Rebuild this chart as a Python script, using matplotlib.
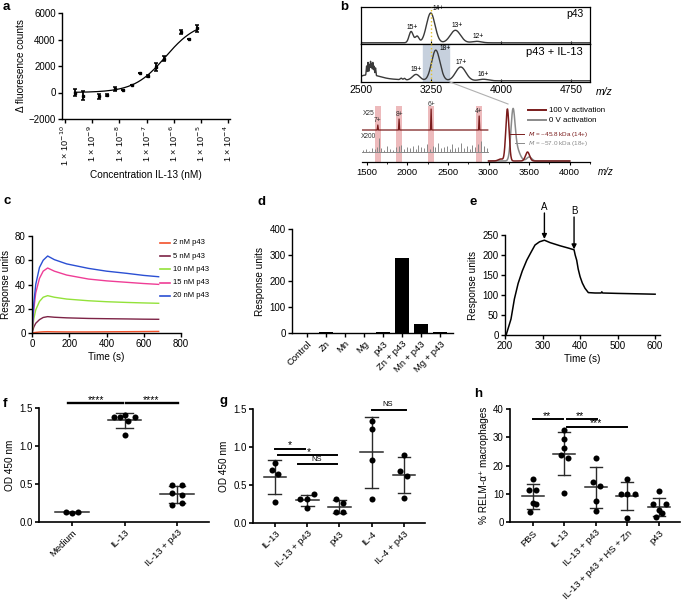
import numpy as np
import matplotlib
matplotlib.use("Agg")
import matplotlib.pyplot as plt
from matplotlib.lines import Line2D
from matplotlib.ticker import MultipleLocator

plt.rcParams['font.family'] = ['Liberation Sans', 'DejaVu Sans']
plt.rcParams['mathtext.fontset'] = 'dejavusans'

# ---------------- data ----------------
# a: thermophoresis titration
a_log_conc = [-9.65, -9.35, -8.75, -8.45, -8.15, -7.85, -7.55, -7.25, -6.95, -6.64, -6.35, -5.74, -5.44, -5.14]
a_signal = [0, -250, -300, -180, 270, 200, 575, 1450, 1250, 1950, 2550, 4550, 4050, 4850]
a_error = [250, 350, 200, 80, 150, 0, 0, 0, 100, 300, 200, 150, 0, 250]
a_fit_bottom, a_fit_top, a_fit_logec50, a_fit_hill = 0, 5400, -6.3, 0.75
a_tick_exp = [-10, -9, -8, -7, -6, -5, -4]

# b: native MS, peak tables (m/z, relative height, width)
b_top_mz = [3036, 3100, 3246, 3510, 3737]
b_top_h = [0.38, 0.22, 1.0, 0.42, 0.05]
b_top_w = [22, 20, 45, 55, 50]
b_top_lab = ['15+', '', '14+', '13+', '12+']
b_bot_mz = [2520, 2560, 2575, 2590, 2602, 2614, 2627, 2640, 2655, 2620, 2800, 2930, 2965, 3090, 3300, 3567, 3810]
b_bot_h = [0.08, 0.30, 0.42, 0.35, 0.45, 0.38, 0.42, 0.30, 0.25, 0.15, 0.05, 0.05, 0.05, 0.20, 1.0, 0.45, 0.05]
b_bot_w = [40, 4, 4, 4, 4, 4, 4, 4, 4, 90, 150, 10, 10, 40, 45, 55, 50]
b_bot_lab_mz = [3090, 3300, 3567, 3810]
b_bot_lab = ['19+', '18+', '17+', '16+']
b_x25_mz = [1635, 1897, 2292, 2884]
b_x25_h = [5, 11, 21, 14]
b_x25_lab = ['7+', '8+', '6+', '4+']
b_noise_mz = [1455, 1490, 1525, 1560, 1595, 1630, 1645, 1680, 1715, 1750, 1785, 1820, 1855, 1890, 1925,
              1960, 1995, 2030, 2065, 2100, 2135, 2170, 2205, 2240, 2275, 2310, 2345, 2380, 2415, 2450,
              2485, 2520, 2555, 2590, 2625, 2660, 2695, 2730, 2765, 2800, 2835, 2870, 2905, 2940, 2975]
b_noise_h = [2, 3, 1, 4, 3, 5, 14, 4, 2, 6, 3, 2, 5, 6, 7, 3, 5, 4, 6, 3, 7, 5, 4, 8, 3, 6, 5, 9, 4, 5,
             6, 3, 8, 4, 5, 9, 4, 6, 3, 7, 5, 8, 11, 6, 4]
b_0v_mz, b_0v_h, b_0v_w = [3300, 3345, 3500], [46, 12, 4], [25, 40, 30]
b_100v_mz, b_100v_h, b_100v_w = [3232, 3150, 3480], [52, 2, 9], [20, 30, 25]

# c: SPR sensorgrams
c_time = [0, 10, 20, 40, 60, 84, 120, 186, 303, 400, 509, 600, 680]
c_series = {
    '2 nM p43': [0, 0.3, 0.5, 0.8, 1.0, 1.1, 1.0, 0.9, 0.9, 1.0, 1.1, 1.2, 1.3],
    '5 nM p43': [0, 5, 8, 11, 12.8, 13.5, 13, 12.5, 12, 11.8, 11.6, 11.4, 11.3],
    '10 nM p43': [0, 12, 19, 26, 29.5, 30.8, 29.5, 28, 26.6, 25.8, 25.2, 24.8, 24.5],
    '15 nM p43': [0, 20, 33, 45, 51, 53.6, 51, 47.8, 44.5, 43, 41.8, 40.8, 40.1],
    '20 nM p43': [0, 25, 40, 54, 60, 63.5, 60.5, 57, 53.3, 51, 49.2, 47.5, 46.4],
}
c_colors = ['#f2502a', '#7d2346', '#93e23a', '#ef3d96', '#2b4fd3']

# d: bar chart
d_cats = ['Control', 'Zn', 'Mn', 'Mg', 'p43', 'Zn + p43', 'Mn + p43', 'Mg + p43']
d_vals = [0, 2, 0, 0, 2, 290, 33, 5]

# e: SPR trace
e_time = [203, 216, 225, 235, 246, 258, 270, 280, 292, 305, 320, 347, 370, 384, 387, 391, 395, 400, 406,
          413, 422, 440, 456, 458, 460, 500, 550, 600]
e_resp = [0, 40, 90, 129, 160, 187, 208, 225, 233, 237, 231, 223, 217, 213, 200, 187, 165, 146, 130,
          117, 106, 105, 105, 108, 105, 104, 103, 102]

# f
f_cats = ['Medium', 'IL-13', 'IL-13 + p43']
f_vals = [[0.13, 0.12, 0.13], [1.38, 1.38, 1.41, 1.33, 1.38, 1.14], [0.49, 0.49, 0.38, 0.36, 0.245, 0.22]]
# g
g_cats = ['IL-13', 'IL-13 + p43', 'p43', 'IL-4', 'IL-4 + p43']
g_vals = [[0.79, 0.70, 0.64, 0.28], [0.31, 0.31, 0.38, 0.20], [0.31, 0.26, 0.14, 0.14],
          [1.34, 1.24, 0.83, 0.31], [0.89, 0.69, 0.62, 0.33]]
# h
h_cats = ['PBS', 'IL-13', 'IL-13 + p43', 'IL-13 + p43 + HS + Zn', 'p43']
h_vals = [[15.3, 11.5, 11.5, 6.7, 6.2, 3.5], [32.4, 29.4, 26.3, 23.6, 22.8, 10.4],
          [22.8, 14.1, 12.9, 7.6, 3.9], [15.1, 9.8, 9.8, 9.8, 1.5], [10.8, 6.2, 6.2, 4.3, 3.2, 1.8]]

# horizontal jitter of dots (layout only)
f_jit = [[-0.12, 0, 0.12], [-0.2, -0.09, 0, 0.07, 0.2, 0], [-0.1, 0.1, -0.1, 0.1, 0.1, -0.1]]
g_jit = [[0, -0.1, 0.1, 0], [-0.23, 0, 0.22, 0], [-0.1, 0.12, -0.1, 0.12], [0, 0, 0, 0], [0, -0.12, 0.1, 0]]
h_jit = [[0, -0.14, 0.1, 0, 0.1, -0.1], [0, 0, 0, -0.1, 0.1, 0], [0, -0.1, 0.12, 0, 0],
         [0, -0.2, 0, 0.23, 0], [0, -0.2, 0.23, 0, 0.1, -0.1]]

# ---------------- layout ----------------
W, H = 681, 600
fig = plt.figure(figsize=(W / 100, H / 100), dpi=100)
fig.patch.set_facecolor('white')


def axpx(l, t, r, b):
    return fig.add_axes([l / W, 1 - b / H, (r - l) / W, (b - t) / H])


def fp(x, y):
    return x / W, 1 - y / H


TK = 7.0   # tick label size
LS = 7.2   # axis label size


def style(ax, lw=1.0, ls=TK):
    for s in ['top', 'right']:
        ax.spines[s].set_visible(False)
    for s in ['left', 'bottom']:
        ax.spines[s].set_linewidth(lw)
    ax.tick_params(width=lw, length=3, labelsize=ls, pad=1.5)


for lab, x, y in [('a', 3, 10), ('b', 340, 10), ('c', 3, 204), ('d', 257, 205), ('e', 470, 205),
                  ('f', 3, 407), ('g', 220, 404), ('h', 474, 397)]:
    fig.text(*fp(x, y), lab, fontsize=9.5, fontweight='bold', va='baseline', ha='left')

# ---- a ----
axa = axpx(62, 13, 230, 119)
style(axa)
axa.set_xscale('log')
axa.errorbar(10.0 ** np.array(a_log_conc), a_signal, yerr=a_error, fmt='s', ms=2.0, color='k',
             ecolor='k', elinewidth=1.3, capsize=1.7, capthick=1.1)
xx = np.linspace(min(a_log_conc), max(a_log_conc), 200)
yy = a_fit_bottom + (a_fit_top - a_fit_bottom) / (1 + 10 ** (a_fit_hill * (a_fit_logec50 - xx)))
axa.plot(10 ** xx, yy, 'k', lw=0.9)
axa.set_xlim(10 ** -10.11, 10 ** -3.93)
axa.set_ylim(-2000, 6000)
axa.set_yticks([-2000, 0, 2000, 4000, 6000])
axa.set_yticklabels(['\u22122000', '0', '2000', '4000', '6000'])
axa.set_xticks(10.0 ** np.array(a_tick_exp))
axa.set_xticklabels([r'1 × 10$^{%d}$' % e for e in a_tick_exp], rotation=90, fontsize=6.6)
axa.tick_params(axis='x', which='minor', length=1.5, width=0.6)
axa.set_ylabel('\u0394 fluoresence counts', fontsize=LS, labelpad=2)
axa.set_xlabel('Concentration IL-13 (nM)', fontsize=LS, labelpad=3)

# ---- b (top spectra) ----
def spectrum(x, mz, h, w):
    y = np.zeros_like(x)
    for m, hh, ww in zip(mz, h, w):
        y += hh * np.exp(-0.5 * ((x - m) / ww) ** 2)
    return y

bx = np.linspace(2500, 4950, 3000)
axb1 = axpx(361, 7, 590, 44)
axb2 = axpx(361, 44, 590, 82)
for ax in (axb1, axb2):
    ax.set_xlim(2500, 4950)
    ax.set_ylim(-0.04, 1.2)
    ax.set_yticks([])
    for s in ax.spines.values():
        s.set_linewidth(0.9)
    ax.tick_params(axis='x', direction='in', length=2.5, width=0.8, labelsize=7.5, pad=2)
    ax.set_xticks([2500, 3250, 4000, 4750])
    ax.axvline(3250, color='#e2c12a', ls=':', lw=1.0, zorder=3)
axb1.set_xticklabels([])
axb2.axvspan(3165, 3440, color='#c6d0dd', zorder=0)
axb1.plot(bx, spectrum(bx, b_top_mz, b_top_h, b_top_w), color='#3a3a3a', lw=1.0)
axb2.plot(bx, spectrum(bx, b_bot_mz, b_bot_h, b_bot_w), color='#3a3a3a', lw=1.0)
for m, h, t in zip(b_top_mz, b_top_h, b_top_lab):
    if t:
        axb1.text(m + 15, h + 0.03, t, fontsize=4.8, ha='left' if m == 3246 else 'center', va='bottom')
for m, t in zip(b_bot_lab_mz, b_bot_lab):
    yv = spectrum(np.array([float(m)]), b_bot_mz, b_bot_h, b_bot_w)[0]
    axb2.text(m + (40 if t == '18+' else 0), min(yv, 0.9) + 0.04, t, fontsize=4.8,
              ha='left' if t == '18+' else 'center', va='bottom')
axb1.text(0.97, 0.82, 'p43', transform=axb1.transAxes, ha='right', va='center', fontsize=7.5)
axb2.text(0.97, 0.78, 'p43 + IL-13', transform=axb2.transAxes, ha='right', va='center', fontsize=8)
fig.text(*fp(596, 92), 'm/z', fontsize=7.5, style='italic', va='center')

# ---- b (lower spectra) ----
axb3 = axpx(362, 100, 590, 162)
axb3.set_xlim(1440, 4250)
axb3.set_ylim(0, 62)
for s in ['top', 'right', 'left']:
    axb3.spines[s].set_visible(False)
axb3.spines['bottom'].set_linewidth(0.9)
axb3.set_yticks([])
axb3.set_xticks([1500, 2000, 2500, 3000, 3500, 4000])
axb3.xaxis.set_minor_locator(MultipleLocator(250))
axb3.tick_params(axis='x', length=2.5, width=0.8, labelsize=6.8, pad=1.5)
axb3.tick_params(axis='x', which='minor', length=1.5, width=0.6)
for m in b_x25_mz:
    axb3.axvspan(m - 40, m + 40, ymax=56 / 62, color='#e9a9ab', alpha=0.8, lw=0, zorder=0)
# X200 noise trace
base200 = 10
axb3.plot([1440, 2990], [base200, base200], color='#888', lw=0.7)
axb3.vlines(b_noise_mz, base200, base200 + np.array(b_noise_h), color='#888', lw=0.7)
# X25 trace
base25 = 32
px, py = [1440], [base25]
for m, h in zip(b_x25_mz, b_x25_h):
    px += [m - 8, m, m + 8]
    py += [base25, base25 + h, base25]
px.append(2990)
py.append(base25)
axb3.plot(px, py, color='#7a1c1c', lw=0.9)
for m, h, t in zip(b_x25_mz, b_x25_h, b_x25_lab):
    axb3.text(m, base25 + h + 1, t, fontsize=4.8, ha='center', va='bottom', color='#333')
axb3.text(1450, 49, 'X25', fontsize=4.8, ha='left', va='center', color='#333')
axb3.text(1430, 26, 'X200', fontsize=4.8, ha='left', va='center', color='#333')
mx = np.linspace(3000, 4000, 1500)
axb3.plot(mx, 1 + spectrum(mx, b_0v_mz, b_0v_h, b_0v_w), color='#8a8a8a', lw=1.1)
axb3.plot(mx, 1 + spectrum(mx, b_100v_mz, b_100v_h, b_100v_w), color='#7a1c1c', lw=1.1)
axb3.plot([3262, 3440], [28, 28], color='#7a1c1c', lw=0.7)
axb3.plot([3330, 3440], [19, 19], color='#8a8a8a', lw=0.7)
fig.text(*fp(598, 172), 'm/z', fontsize=7, style='italic', va='center')
fig.add_artist(Line2D([528 / W, 546 / W], [1 - 110 / H] * 2, color='#7a1c1c', lw=1.4))
fig.add_artist(Line2D([528 / W, 546 / W], [1 - 120 / H] * 2, color='#8a8a8a', lw=1.4))
fig.text(*fp(549, 110), '100 V activation', fontsize=5.7, va='center')
fig.text(*fp(549, 120), '0 V activation', fontsize=5.7, va='center')
fig.text(*fp(528, 134), r'$M$ = ~45.8 kDa (14+)', fontsize=4.6, va='center', color='#7a1c1c')
fig.text(*fp(528, 143), r'$M$ = ~57.0 kDa (18+)', fontsize=4.6, va='center', color='#8a8a8a')
fig.add_artist(Line2D([450 / W, 508 / W], [1 - 82 / H, 1 - 104 / H], color='#b0b0b0', lw=0.8))

# ---- c ----
axc = axpx(32, 236, 181, 333)
style(axc)
for (name, vals), col in zip(c_series.items(), c_colors):
    axc.plot(c_time, vals, color=col, lw=1.0)
axc.set_xlim(0, 800)
axc.set_ylim(0, 80)
axc.set_xticks([0, 200, 400, 600, 800])
axc.set_yticks([0, 20, 40, 60, 80])
axc.set_xlabel('Time (s)', fontsize=LS, labelpad=2)
axc.set_ylabel('Response units', fontsize=LS, labelpad=3)
for i, ((name, _), col) in enumerate(zip(c_series.items(), c_colors)):
    y = 243 + i * 13.2
    fig.add_artist(Line2D([160 / W, 170 / W], [1 - y / H] * 2, color=col, lw=1.2))
    fig.text(*fp(173, y), name, fontsize=5.5, va='center')

# ---- d ----
axd = axpx(292, 229, 453, 333)
style(axd)
axd.bar(range(len(d_cats)), d_vals, width=0.72, color='black')
axd.set_xlim(-0.79, 7.68)
axd.set_ylim(0, 400)
axd.set_yticks([0, 100, 200, 300, 400])
axd.set_xticks(range(len(d_cats)))
axd.set_xticklabels(d_cats, rotation=45, ha='right', rotation_mode='anchor', fontsize=6.8)
axd.set_ylabel('Response units', fontsize=LS, labelpad=3)

# ---- e ----
axe = axpx(505, 235, 660, 335)
style(axe)
axe.plot(e_time, e_resp, color='k', lw=1.1)
axe.set_xlim(200, 613)
axe.set_ylim(0, 250)
axe.set_xticks([200, 300, 400, 500, 600])
axe.set_yticks([0, 50, 100, 150, 200, 250])
axe.set_xlabel('Time (s)', fontsize=LS, labelpad=2)
axe.set_ylabel('Response units', fontsize=LS, labelpad=3)
for lab, t, yt, yh in [('A', 305, 305, 240), ('B', 384, 295, 214)]:
    axe.annotate('', xy=(t, yh), xytext=(t, yt), annotation_clip=False,
                 arrowprops=dict(arrowstyle='-|>', color='k', lw=1.0, mutation_scale=7, shrinkA=0, shrinkB=0))
    axe.text(t, yt + 3, lab, ha='center', va='bottom', fontsize=7, clip_on=False)


# ---- dot plots ----
def dotplot(ax, groups, jit, mhw, chw):
    for i, (vals, offs) in enumerate(zip(groups, jit)):
        v = np.array(vals, dtype=float)
        ax.scatter(i + np.array(offs), v, s=19, color='black', zorder=3, linewidths=0, clip_on=False)
        m, sd = v.mean(), v.std(ddof=1)
        ax.plot([i - mhw, i + mhw], [m, m], color='#2a2a2a', lw=1.1, zorder=2)
        ax.plot([i, i], [m - sd, m + sd], color='#2a2a2a', lw=1.0, zorder=2)
        for yv in (m - sd, m + sd):
            ax.plot([i - chw, i + chw], [yv, yv], color='#2a2a2a', lw=1.0, zorder=2)


def sigbar(ax, x0, x1, y, txt, tx, ty, lw=1.4, fs=7.5):
    ax.plot([x0, x1], [y, y], color='k', lw=lw, clip_on=False)
    ax.text(tx, ty, txt, ha='center', va='bottom', fontsize=fs, clip_on=False)


# f
axf = axpx(39, 408, 209, 522)
style(axf, lw=1.2)
dotplot(axf, f_vals, f_jit, 0.32, 0.16)
axf.set_xlim(-0.63, 2.61)
axf.set_ylim(0, 1.5)
axf.set_yticks([0.0, 0.5, 1.0, 1.5])
axf.set_yticklabels(['0.0', '0.5', '1.0', '1.5'])
axf.set_xticks(range(len(f_cats)))
axf.set_xticklabels(f_cats, rotation=45, ha='right', rotation_mode='anchor', fontsize=6.8)
axf.set_ylabel('OD 450 nm', fontsize=LS, labelpad=3)
sigbar(axf, -0.08, 0.97, 1.57, '****', 0.45, 1.545, lw=1.7)
sigbar(axf, 1.03, 2.02, 1.57, '****', 1.5, 1.545, lw=1.7)

# g
axg = axpx(253, 409, 425, 523)
style(axg, lw=1.2)
dotplot(axg, g_vals, g_jit, 0.35, 0.2)
axg.set_xlim(-0.68, 4.65)
axg.set_ylim(0, 1.5)
axg.set_yticks([0.0, 0.5, 1.0, 1.5])
axg.set_yticklabels(['0.0', '0.5', '1.0', '1.5'])
axg.set_xticks(range(len(g_cats)))
axg.set_xticklabels(g_cats, rotation=45, ha='right', rotation_mode='anchor', fontsize=6.8)
axg.set_ylabel('OD 450 nm', fontsize=LS, labelpad=3)
sigbar(axg, 0.0, 0.93, 0.98, '*', 0.45, 0.955)
sigbar(axg, 0.09, 1.92, 0.89, '*', 1.05, 0.865)
sigbar(axg, 0.71, 1.92, 0.78, 'NS', 1.3, 0.79, fs=5.5)
sigbar(axg, 3.0, 4.06, 1.49, 'NS', 3.5, 1.51, fs=5.5)

# h
axh = axpx(510, 409, 680, 522)
style(axh, lw=1.2)
dotplot(axh, h_vals, h_jit, 0.35, 0.19)
axh.set_xlim(-0.73, 4.67)
axh.set_ylim(0, 40)
axh.set_yticks([0, 10, 20, 30, 40])
axh.set_xticks(range(len(h_cats)))
axh.set_xticklabels(h_cats, rotation=45, ha='right', rotation_mode='anchor', fontsize=6.8)
axh.set_ylabel('% RELM-\u03b1\u207a macrophages', fontsize=LS, labelpad=3)
sigbar(axh, 0.0, 0.95, 36.4, '**', 0.45, 35.7)
sigbar(axh, 1.08, 2.03, 36.4, '**', 1.5, 35.7)
sigbar(axh, 1.07, 2.98, 33.8, '***', 2.0, 33.1)

fig.savefig('out.png', dpi=100, facecolor='white')
